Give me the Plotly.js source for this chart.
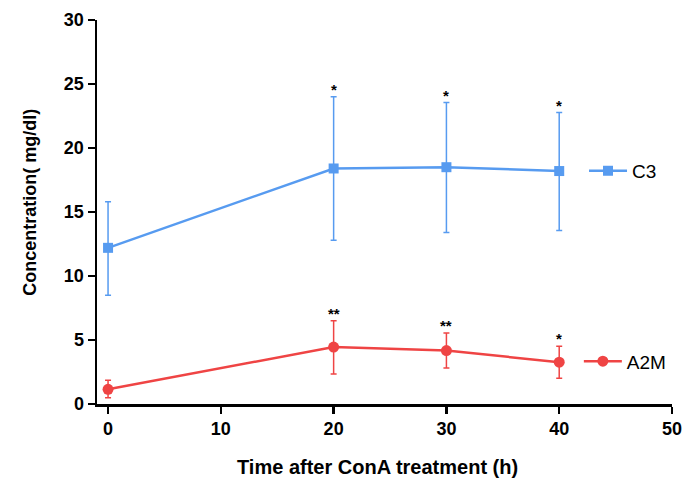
<!DOCTYPE html>
<html>
<head>
<meta charset="utf-8">
<script src="https://cdn.plot.ly/plotly-3.0.1.min.js"></script>
<style>html,body{margin:0;padding:0;background:#fff;}#chart{width:700px;height:490px;}</style>
</head>
<body>
<div id="chart"></div>
<script>
const timeH = [0, 20, 30, 40];
const c3Mean = [12.2, 18.4, 18.5, 18.2];
const c3Upper = [15.8, 24.0, 23.55, 22.77];
const c3Lower = [8.5, 12.8, 13.4, 13.55];
const a2mMean = [1.15, 4.45, 4.17, 3.27];
const a2mUpper = [1.86, 6.5, 5.55, 4.51];
const a2mLower = [0.48, 2.35, 2.82, 2.01];
const c3Stars = ["", "*", "*", "*"];
const a2mStars = ["", "**", "**", "*"];

const blue = '#579bf0';
const red = '#ef4444';

function errs(mean, up, lo) {
  return {
    type: 'data', symmetric: false,
    array: up.map((u, i) => u - mean[i]),
    arrayminus: lo.map((l, i) => mean[i] - l),
    thickness: 1.5, width: 3
  };
}

const traces = [
  {
    x: timeH, y: c3Mean, name: 'C3', type: 'scatter', mode: 'lines+markers',
    line: {color: blue, width: 2.5},
    marker: {symbol: 'square', size: 10, color: blue},
    error_y: Object.assign(errs(c3Mean, c3Upper, c3Lower), {color: blue}),
    legend: 'legend'
  },
  {
    x: timeH, y: a2mMean, name: 'A2M', type: 'scatter', mode: 'lines+markers',
    line: {color: red, width: 2.5},
    marker: {symbol: 'circle', size: 11, color: red},
    error_y: Object.assign(errs(a2mMean, a2mUpper, a2mLower), {color: red}),
    legend: 'legend2'
  }
];

const font = 'Liberation Sans, Arial, sans-serif';
const annotations = [];
timeH.forEach((t, i) => {
  if (c3Stars[i]) annotations.push({x: t, y: c3Upper[i], xref: 'x', yref: 'y', text: '<b>' + c3Stars[i] + '</b>',
    showarrow: false, yanchor: 'bottom', yshift: -3, font: {family: font, size: 15, color: '#000'}});
  if (a2mStars[i]) annotations.push({x: t, y: a2mUpper[i], xref: 'x', yref: 'y', text: '<b>' + a2mStars[i] + '</b>',
    showarrow: false, yanchor: 'bottom', yshift: -3, font: {family: font, size: 15, color: '#000'}});
});
annotations.push({
  text: '<b>Concentration( mg/dl)</b>', xref: 'paper', yref: 'paper',
  x: -0.116, y: 0.525, textangle: -90, showarrow: false,
  xanchor: 'center', yanchor: 'middle', font: {family: font, size: 18, color: '#000'}
});
annotations.push({
  text: '<b>Time after ConA treatment (h)</b>', xref: 'paper', yref: 'paper',
  x: 0.487, y: -0.165, showarrow: false,
  xanchor: 'center', yanchor: 'middle', font: {family: font, size: 20, color: '#000'}
});

const layout = {
  width: 700, height: 490,
  margin: {l: 97, r: 28, t: 19.5, b: 85.5},
  paper_bgcolor: '#fff', plot_bgcolor: '#fff',
  font: {family: font, color: '#000'},
  xaxis: {
    range: [-0.98, 50], tickvals: [0, 10, 20, 30, 40, 50],
    showgrid: false, zeroline: false, showline: true, linewidth: 2.5, linecolor: '#000',
    ticks: 'outside', ticklen: 7, tickwidth: 2.5, tickcolor: '#000',
    tickfont: {family: font, size: 18, weight: 'bold'}
  },
  yaxis: {
    range: [0, 30], tickvals: [0, 5, 10, 15, 20, 25, 30],
    showgrid: false, zeroline: false, showline: true, linewidth: 2.5, linecolor: '#000',
    ticks: 'outside', ticklen: 7, tickwidth: 2.5, tickcolor: '#000',
    tickfont: {family: font, size: 18, weight: 'bold'}
  },
  showlegend: true,
  legend: {x: 0.847, y: 0.607, xanchor: 'left', yanchor: 'middle', bgcolor: 'rgba(0,0,0,0)',
    itemwidth: 38, font: {family: font, size: 19}},
  legend2: {x: 0.838, y: 0.111, xanchor: 'left', yanchor: 'middle', bgcolor: 'rgba(0,0,0,0)',
    itemwidth: 38, font: {family: font, size: 19}},
  annotations: annotations
};

Plotly.newPlot('chart', traces, layout, {displayModeBar: false, staticPlot: true});
</script>
</body>
</html>
